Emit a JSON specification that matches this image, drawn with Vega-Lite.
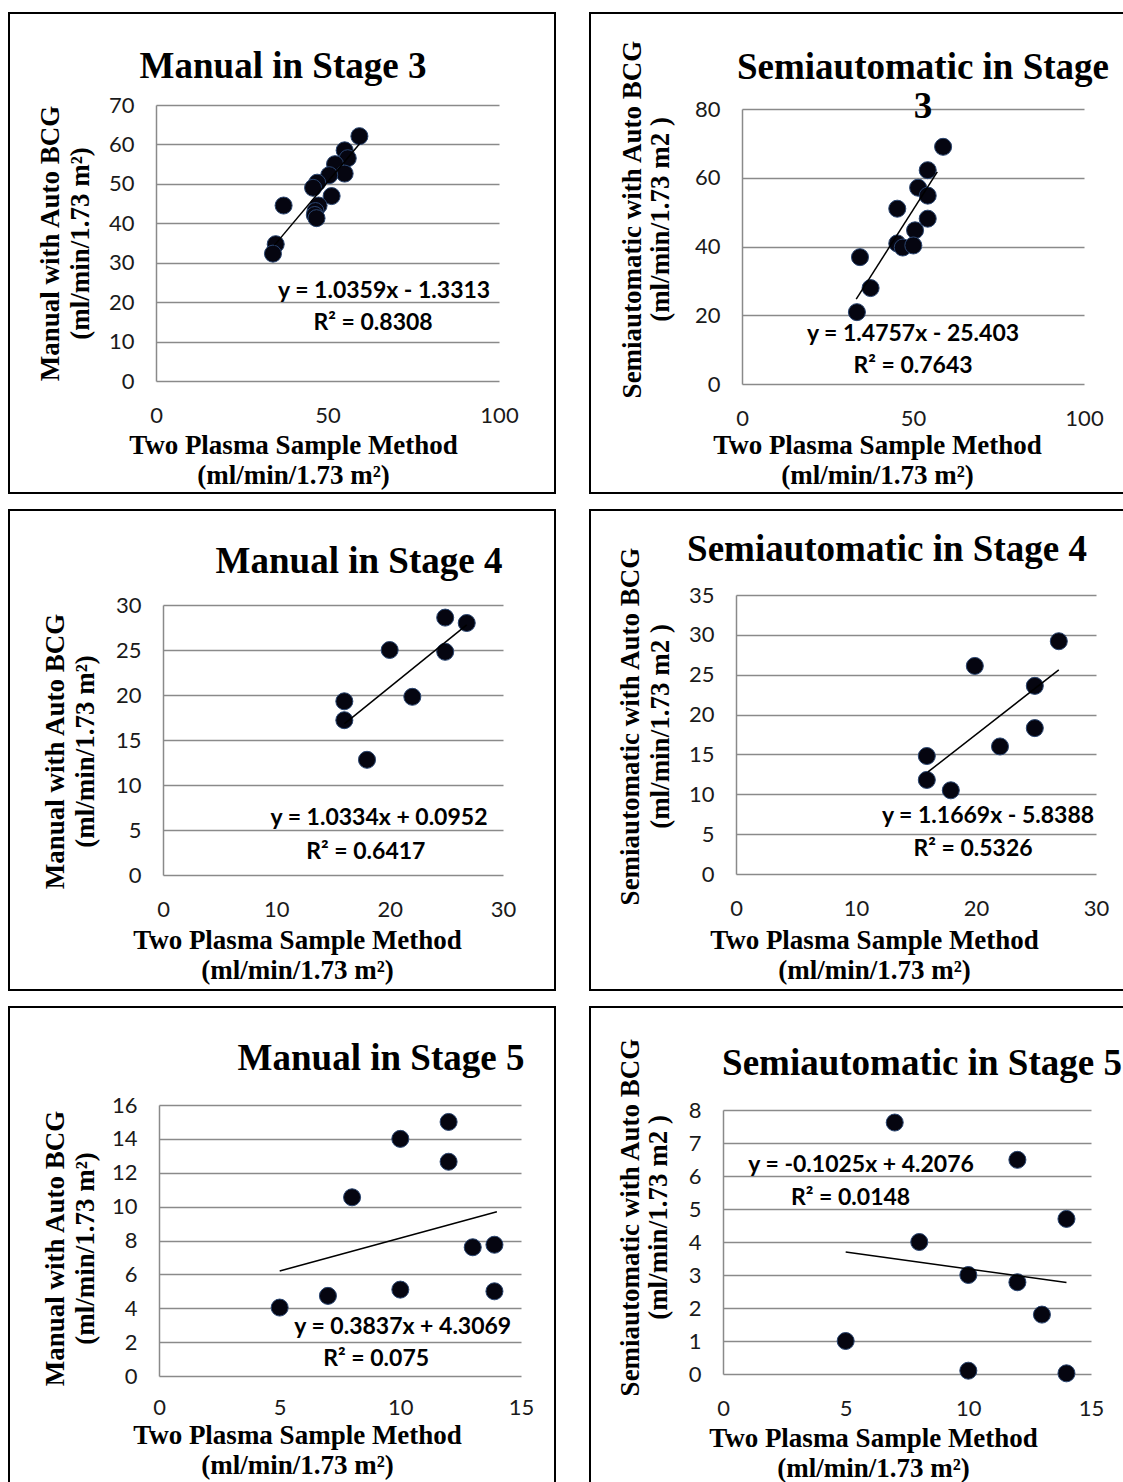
{
  "$schema": "https://vega.github.io/schema/vega-lite/v6.json",
  "padding": {"left": 8, "top": 12, "right": 0, "bottom": 0},
  "background": "white",
  "columns": 2,
  "spacing": {"row": 17, "column": 35},
  "bounds": "flush",
  "config": {
    "view": {"stroke": "#000000", "strokeWidth": 2},
    "axis": {
      "labelFont": "Lato", "labelFontSize": 22, "labelColor": "#1a1a1a", "format": "d", "labelFlush": false, "labelOverlap": false,
      "titleFont": "Liberation Serif", "titleFontSize": 27, "titleFontWeight": "bold", "titleColor": "#000000", "titleLineHeight": 30,
      "domainColor": "#8a8a8a", "domainWidth": 1.5, "gridColor": "#8a8a8a", "gridWidth": 1.5, "gridOpacity": 1, "ticks": false
    },
    "title": {"font": "Liberation Serif", "fontSize": 37, "fontWeight": "bold", "color": "#000000", "lineHeight": 39, "frame": "group", "anchor": "middle"},
    "circle": {"size": 290, "fill": "#050510", "stroke": "#2a4570", "strokeWidth": 1, "opacity": 1},
    "line": {"color": "#000000", "strokeWidth": 1.5},
    "text": {"font": "Lato", "fontWeight": "bold", "fontSize": 23, "color": "#000000"}
  },
  "concat": [
    {
      "width": 546, "height": 480,
      "title": {"text": "Manual in Stage 3", "offset": -73, "dx": 1},
      "layer": [
        {
          "data": {"values": [
            {"x": 59.3, "y": 62.1}, {"x": 55.0, "y": 58.5}, {"x": 55.9, "y": 56.5}, {"x": 52.2, "y": 55.0},
            {"x": 55.0, "y": 52.6}, {"x": 50.5, "y": 52.2}, {"x": 47.0, "y": 50.3}, {"x": 45.8, "y": 49.0},
            {"x": 51.2, "y": 46.9}, {"x": 47.4, "y": 44.5}, {"x": 37.2, "y": 44.5}, {"x": 46.5, "y": 43.1},
            {"x": 46.3, "y": 42.1}, {"x": 46.8, "y": 41.3}, {"x": 34.9, "y": 34.7}, {"x": 34.1, "y": 32.3}
          ]},
          "mark": {"type": "circle"},
          "encoding": {
            "x": {"field": "x", "type": "quantitative", "scale": {"domain": [0, 100], "range": [147, 490], "nice": false, "zero": false},
              "axis": {"values": [0, 50, 100], "offset": -112, "domain": false, "grid": false, "labelPadding": 24,
                "title": ["Two Plasma Sample Method", "(ml/min/1.73 m²)"], "titleX": 284, "titleY": 51, "titleAlign": "center", "titleAngle": 0}},
            "y": {"field": "y", "type": "quantitative", "scale": {"domain": [0, 70], "range": [368, 92], "nice": false, "zero": false},
              "axis": {"values": [0, 10, 20, 30, 40, 50, 60, 70], "offset": -147, "domain": true, "grid": true, "labelPadding": 22,
                "title": ["Manual with Auto BCG", "(ml/min/1.73 m²)"], "titleX": -92, "titleY": 230, "titleAlign": "center", "titleAngle": 270}}
          }
        },
        {
          "data": {"values": [{"x": 34.5, "y": 34.4}, {"x": 59.3, "y": 60.1}]},
          "mark": {"type": "line"},
          "encoding": {"x": {"field": "x", "type": "quantitative"}, "y": {"field": "y", "type": "quantitative"}}
        },
        {"data": {"values": [{"eq": "y = 1.0359x - 1.3313"}]}, "mark": {"type": "text"}, "encoding": {"text": {"field": "eq"}, "x": {"datum": 66.5}, "y": {"datum": 22.8}}},
        {"data": {"values": [{"eq": "R² = 0.8308"}]}, "mark": {"type": "text"}, "encoding": {"text": {"field": "eq"}, "x": {"datum": 63.3}, "y": {"datum": 14.7}}}
      ]
    },
    {
      "width": 536, "height": 480,
      "title": {"text": ["Semiautomatic in Stage", "3"], "offset": -113, "dx": 65},
      "layer": [
        {
          "data": {"values": [
            {"x": 58.8, "y": 69.0}, {"x": 54.3, "y": 62.2}, {"x": 51.5, "y": 57.1}, {"x": 54.3, "y": 54.8},
            {"x": 45.4, "y": 51.0}, {"x": 54.3, "y": 48.1}, {"x": 50.6, "y": 44.7}, {"x": 45.4, "y": 40.9},
            {"x": 47.0, "y": 39.7}, {"x": 50.1, "y": 40.3}, {"x": 34.5, "y": 36.9}, {"x": 37.6, "y": 27.9},
            {"x": 33.6, "y": 20.9}
          ]},
          "mark": {"type": "circle"},
          "encoding": {
            "x": {"field": "x", "type": "quantitative", "scale": {"domain": [0, 100], "range": [152, 494], "nice": false, "zero": false},
              "axis": {"values": [0, 50, 100], "offset": -109, "domain": false, "grid": false, "labelPadding": 24,
                "title": ["Two Plasma Sample Method", "(ml/min/1.73 m²)"], "titleX": 287, "titleY": 48, "titleAlign": "center", "titleAngle": 0}},
            "y": {"field": "y", "type": "quantitative", "scale": {"domain": [0, 80], "range": [371, 96], "nice": false, "zero": false},
              "axis": {"values": [0, 20, 40, 60, 80], "offset": -152, "domain": true, "grid": true, "labelPadding": 22,
                "title": ["Semiautomatic with Auto BCG", "(ml/min/1.73 m2 )"], "titleX": -96, "titleY": 206, "titleAlign": "center", "titleAngle": 270, "titleLineHeight": 28}}
          }
        },
        {
          "data": {"values": [{"x": 33.4, "y": 24.7}, {"x": 57.1, "y": 61.7}]},
          "mark": {"type": "line"},
          "encoding": {"x": {"field": "x", "type": "quantitative"}, "y": {"field": "y", "type": "quantitative"}}
        },
        {"data": {"values": [{"eq": "y = 1.4757x - 25.403"}]}, "mark": {"type": "text"}, "encoding": {"text": {"field": "eq"}, "x": {"datum": 50.0}, "y": {"datum": 14.5}}},
        {"data": {"values": [{"eq": "R² = 0.7643"}]}, "mark": {"type": "text"}, "encoding": {"text": {"field": "eq"}, "x": {"datum": 50.0}, "y": {"datum": 5.2}}}
      ]
    },
    {
      "width": 546, "height": 480,
      "title": {"text": "Manual in Stage 4", "offset": -71, "dx": 77},
      "layer": [
        {
          "data": {"values": [
            {"x": 24.9, "y": 28.6}, {"x": 26.8, "y": 28.0}, {"x": 20.0, "y": 25.0}, {"x": 24.9, "y": 24.8},
            {"x": 22.0, "y": 19.8}, {"x": 16.0, "y": 19.3}, {"x": 16.0, "y": 17.2}, {"x": 18.0, "y": 12.8}
          ]},
          "mark": {"type": "circle"},
          "encoding": {
            "x": {"field": "x", "type": "quantitative", "scale": {"domain": [0, 30], "range": [154, 494], "nice": false, "zero": false},
              "axis": {"values": [0, 10, 20, 30], "offset": -115, "domain": false, "grid": false, "labelPadding": 24,
                "title": ["Two Plasma Sample Method", "(ml/min/1.73 m²)"], "titleX": 288, "titleY": 52, "titleAlign": "center", "titleAngle": 0}},
            "y": {"field": "y", "type": "quantitative", "scale": {"domain": [0, 30], "range": [365, 95], "nice": false, "zero": false},
              "axis": {"values": [0, 5, 10, 15, 20, 25, 30], "offset": -154, "domain": true, "grid": true, "labelPadding": 22,
                "title": ["Manual with Auto BCG", "(ml/min/1.73 m²)"], "titleX": -94, "titleY": 241, "titleAlign": "center", "titleAngle": 270}}
          }
        },
        {
          "data": {"values": [{"x": 16.0, "y": 16.8}, {"x": 26.8, "y": 27.8}]},
          "mark": {"type": "line"},
          "encoding": {"x": {"field": "x", "type": "quantitative"}, "y": {"field": "y", "type": "quantitative"}}
        },
        {"data": {"values": [{"eq": "y = 1.0334x + 0.0952"}]}, "mark": {"type": "text"}, "encoding": {"text": {"field": "eq"}, "x": {"datum": 19.06}, "y": {"datum": 6.33}}},
        {"data": {"values": [{"eq": "R² = 0.6417"}]}, "mark": {"type": "text"}, "encoding": {"text": {"field": "eq"}, "x": {"datum": 17.9}, "y": {"datum": 2.56}}}
      ]
    },
    {
      "width": 536, "height": 480,
      "title": {"text": "Semiautomatic in Stage 4", "offset": -59, "dx": 29},
      "layer": [
        {
          "data": {"values": [
            {"x": 26.9, "y": 29.2}, {"x": 19.9, "y": 26.1}, {"x": 24.9, "y": 23.6}, {"x": 24.9, "y": 18.3},
            {"x": 22.0, "y": 16.0}, {"x": 15.9, "y": 14.8}, {"x": 15.9, "y": 11.8}, {"x": 17.9, "y": 10.5}
          ]},
          "mark": {"type": "circle"},
          "encoding": {
            "x": {"field": "x", "type": "quantitative", "scale": {"domain": [0, 30], "range": [146, 506], "nice": false, "zero": false},
              "axis": {"values": [0, 10, 20, 30], "offset": -116, "domain": false, "grid": false, "labelPadding": 24,
                "title": ["Two Plasma Sample Method", "(ml/min/1.73 m²)"], "titleX": 284, "titleY": 53, "titleAlign": "center", "titleAngle": 0}},
            "y": {"field": "y", "type": "quantitative", "scale": {"domain": [0, 35], "range": [364, 85], "nice": false, "zero": false},
              "axis": {"values": [0, 5, 10, 15, 20, 25, 30, 35], "offset": -146, "domain": true, "grid": true, "labelPadding": 22,
                "title": ["Semiautomatic with Auto BCG", "(ml/min/1.73 m2 )"], "titleX": -92, "titleY": 216, "titleAlign": "center", "titleAngle": 270}}
          }
        },
        {
          "data": {"values": [{"x": 16.0, "y": 12.8}, {"x": 26.9, "y": 25.6}]},
          "mark": {"type": "line"},
          "encoding": {"x": {"field": "x", "type": "quantitative"}, "y": {"field": "y", "type": "quantitative"}}
        },
        {"data": {"values": [{"eq": "y = 1.1669x - 5.8388"}]}, "mark": {"type": "text"}, "encoding": {"text": {"field": "eq"}, "x": {"datum": 21.0}, "y": {"datum": 7.28}}},
        {"data": {"values": [{"eq": "R² = 0.5326"}]}, "mark": {"type": "text"}, "encoding": {"text": {"field": "eq"}, "x": {"datum": 19.75}, "y": {"datum": 3.14}}}
      ]
    },
    {
      "width": 546, "height": 480,
      "title": {"text": "Manual in Stage 5", "offset": -71, "dx": 99},
      "layer": [
        {
          "data": {"values": [
            {"x": 12.0, "y": 15.0}, {"x": 10.0, "y": 14.0}, {"x": 12.0, "y": 12.65}, {"x": 8.0, "y": 10.55},
            {"x": 13.0, "y": 7.6}, {"x": 13.9, "y": 7.75}, {"x": 10.0, "y": 5.1}, {"x": 13.9, "y": 5.0},
            {"x": 7.0, "y": 4.73}, {"x": 5.0, "y": 4.04}
          ]},
          "mark": {"type": "circle"},
          "encoding": {
            "x": {"field": "x", "type": "quantitative", "scale": {"domain": [0, 15], "range": [150, 512], "nice": false, "zero": false},
              "axis": {"values": [0, 5, 10, 15], "offset": -111, "domain": false, "grid": false, "labelPadding": 21,
                "title": ["Two Plasma Sample Method", "(ml/min/1.73 m²)"], "titleX": 288, "titleY": 46, "titleAlign": "center", "titleAngle": 0}},
            "y": {"field": "y", "type": "quantitative", "scale": {"domain": [0, 16], "range": [369, 98], "nice": false, "zero": false},
              "axis": {"values": [0, 2, 4, 6, 8, 10, 12, 14, 16], "offset": -150, "domain": true, "grid": true, "labelPadding": 22,
                "title": ["Manual with Auto BCG", "(ml/min/1.73 m²)"], "titleX": -90, "titleY": 241, "titleAlign": "center", "titleAngle": 270}}
          }
        },
        {
          "data": {"values": [{"x": 5.0, "y": 6.2}, {"x": 14.0, "y": 9.7}]},
          "mark": {"type": "line"},
          "encoding": {"x": {"field": "x", "type": "quantitative"}, "y": {"field": "y", "type": "quantitative"}}
        },
        {"data": {"values": [{"eq": "y = 0.3837x + 4.3069"}]}, "mark": {"type": "text"}, "encoding": {"text": {"field": "eq"}, "x": {"datum": 10.1}, "y": {"datum": 2.89}}},
        {"data": {"values": [{"eq": "R² = 0.075"}]}, "mark": {"type": "text"}, "encoding": {"text": {"field": "eq"}, "x": {"datum": 9.0}, "y": {"datum": 1.0}}}
      ]
    },
    {
      "width": 536, "height": 480,
      "title": {"text": "Semiautomatic in Stage 5", "offset": -76, "dx": 64},
      "layer": [
        {
          "data": {"values": [
            {"x": 7.0, "y": 7.62}, {"x": 12.0, "y": 6.49}, {"x": 14.0, "y": 4.7}, {"x": 8.0, "y": 4.0},
            {"x": 10.0, "y": 3.0}, {"x": 12.0, "y": 2.78}, {"x": 13.0, "y": 1.8}, {"x": 5.0, "y": 1.0},
            {"x": 10.0, "y": 0.1}, {"x": 14.0, "y": 0.02}
          ]},
          "mark": {"type": "circle"},
          "encoding": {
            "x": {"field": "x", "type": "quantitative", "scale": {"domain": [0, 15], "range": [133, 501], "nice": false, "zero": false},
              "axis": {"values": [0, 5, 10, 15], "offset": -113, "domain": false, "grid": false, "labelPadding": 24,
                "title": ["Two Plasma Sample Method", "(ml/min/1.73 m²)"], "titleX": 283, "titleY": 51, "titleAlign": "center", "titleAngle": 0}},
            "y": {"field": "y", "type": "quantitative", "scale": {"domain": [0, 8], "range": [367, 103], "nice": false, "zero": false},
              "axis": {"values": [0, 1, 2, 3, 4, 5, 6, 7, 8], "offset": -133, "domain": true, "grid": true, "labelPadding": 22,
                "title": ["Semiautomatic with Auto BCG", "(ml/min/1.73 m2 )"], "titleX": -79, "titleY": 210, "titleAlign": "center", "titleAngle": 270, "titleLineHeight": 28}}
          }
        },
        {
          "data": {"values": [{"x": 5.0, "y": 3.7}, {"x": 14.0, "y": 2.77}]},
          "mark": {"type": "line"},
          "encoding": {"x": {"field": "x", "type": "quantitative"}, "y": {"field": "y", "type": "quantitative"}}
        },
        {"data": {"values": [{"eq": "y = -0.1025x + 4.2076"}]}, "mark": {"type": "text"}, "encoding": {"text": {"field": "eq"}, "x": {"datum": 5.63}, "y": {"datum": 6.33}}},
        {"data": {"values": [{"eq": "R² = 0.0148"}]}, "mark": {"type": "text"}, "encoding": {"text": {"field": "eq"}, "x": {"datum": 5.2}, "y": {"datum": 5.33}}}
      ]
    }
  ]
}
